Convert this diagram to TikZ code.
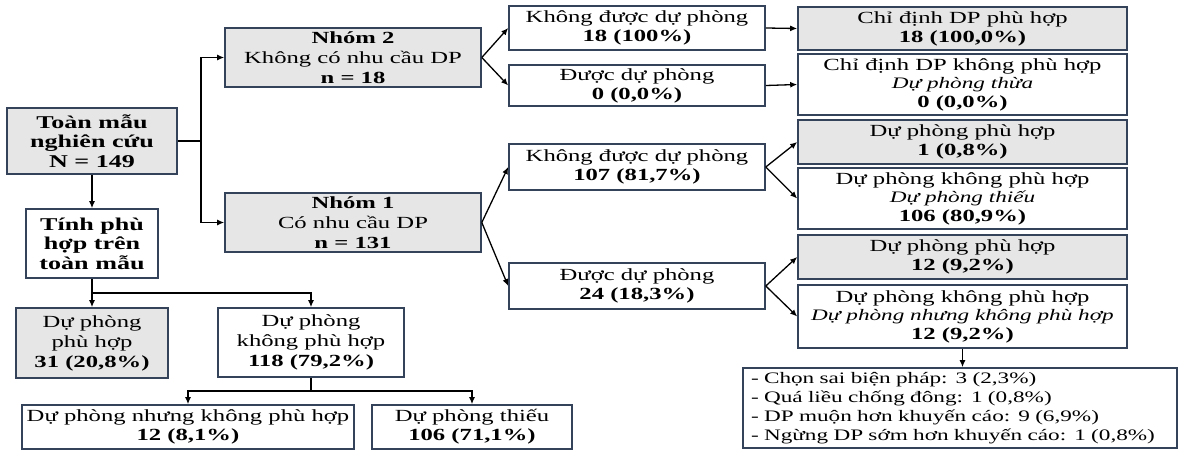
\documentclass[tikz,border=0pt]{standalone}
\usepackage{fontspec}
\setmainfont{Liberation Serif}[FakeStretch=1.45]
\usepackage{tikz}
\usepackage{xcolor}
\usetikzlibrary{arrows.meta}
\definecolor{rim}{HTML}{34425A}
\definecolor{shade}{HTML}{E6E6E6}
\newcommand{\note}[1]{{\fontsize{16}{18.5}\selectfont\itshape #1}}

\begin{document}
\begin{tikzpicture}[
    x=1pt, y=-1pt,
    every node/.style={draw=rim, rectangle, line width=1.6pt, inner sep=0pt, align=center, font=\fontsize{17}{19}\selectfont},
    filled/.style={fill=shade},
    big/.style={font=\fontsize{18}{19.5}\selectfont\bfseries},
    roomy/.style={font=\fontsize{17}{20}\selectfont},
    tight/.style={font=\fontsize{17}{18.5}\selectfont},
    link/.style={line width=1.3pt, -{Latex[length=7pt,width=6pt]}},
    wire/.style={line width=1.3pt}
]
\useasboundingbox (0,0) rectangle (1179,450);

% left part
\node[big, filled, minimum width=170, minimum height=66] (toan) at (92,141) {Toàn mẫu\\nghiên cứu\\N = 149};
\node[big, minimum width=132, minimum height=69] (tinh) at (92,243.5) {Tính phù\\hợp trên\\toàn mẫu};
\node[roomy, filled, minimum width=152, minimum height=70] (dpph) at (92,343) {Dự phòng\\phù hợp\\\textbf{31 (20,8\%)}};
\node[roomy, minimum width=186, minimum height=69] (dpkph) at (311,342.5) {Dự phòng\\không phù hợp\\\textbf{118 (79,2\%)}};
\node[minimum width=332, minimum height=44] (nhung) at (188,427) {Dự phòng nhưng không phù hợp\\\textbf{12 (8,1\%)}};
\node[minimum width=200, minimum height=44] (thieu) at (472,427) {Dự phòng thiếu\\\textbf{106 (71,1\%)}};

% groups
\node[roomy, filled, minimum width=256, minimum height=59] (nhom2) at (353,57.5) {\textbf{Nhóm 2}\\Không có nhu cầu DP\\\textbf{n = 18}};
\node[roomy, filled, minimum width=256, minimum height=59] (nhom1) at (353,222.5) {\textbf{Nhóm 1}\\Có nhu cầu DP\\\textbf{n = 131}};

% middle column
\node[minimum width=256, minimum height=44] (kd2) at (637,28) {Không được dự phòng\\\textbf{18 (100\%)}};
\node[minimum width=256, minimum height=41] (dd2) at (637,85.5) {Được dự phòng\\\textbf{0 (0,0\%)}};
\node[minimum width=256, minimum height=46] (kd1) at (637,167) {Không được dự phòng\\\textbf{107 (81,7\%)}};
\node[minimum width=256, minimum height=46] (dd1) at (637,286) {Được dự phòng\\\textbf{24 (18,3\%)}};

% right column
\node[filled, minimum width=329, minimum height=43] (cdph) at (962.5,28.5) {Chỉ định DP phù hợp\\\textbf{18 (100,0\%)}};
\node[tight, minimum width=329, minimum height=61] (cdkph) at (962.5,84.5) {Chỉ định DP không phù hợp\\\note{Dự phòng thừa}\\\textbf{0 (0,0\%)}};
\node[filled, minimum width=329, minimum height=44] (ph1) at (962.5,142) {Dự phòng phù hợp\\\textbf{1 (0,8\%)}};
\node[tight, minimum width=329, minimum height=61] (thieu1) at (962.5,198.5) {Dự phòng không phù hợp\\\note{Dự phòng thiếu}\\\textbf{106 (80,9\%)}};
\node[filled, minimum width=329, minimum height=44] (ph12) at (962.5,257) {Dự phòng phù hợp\\\textbf{12 (9,2\%)}};
\node[tight, minimum width=329, minimum height=63] (nhung12) at (962.5,316.5) {Dự phòng không phù hợp\\\note{Dự phòng nhưng không phù hợp}\\\textbf{12 (9,2\%)}};
\node[font=\fontsize{16}{19}\selectfont, align=left, text width=418, inner xsep=8pt, minimum height=80] (list) at (960,408) {- Chọn sai biện pháp: 3 (2,3\%)\\- Quá liều chống đông: 1 (0,8\%)\\- DP muộn hơn khuyến cáo: 9 (6,9\%)\\- Ngừng DP sớm hơn khuyến cáo: 1 (0,8\%)};

% forks
\coordinate (splitA) at (201,141);
\coordinate (splitB) at (92,293);
\coordinate (splitC) at (311,391);

% connectors
\draw[wire] (toan.east) -- (splitA);
\draw[link] (splitA) |- (nhom2.west);
\draw[link] (splitA) |- (nhom1.west);
\draw[link] (toan.south) -- (tinh.north);
\draw[link] (tinh.south) -- (dpph.north);
\draw[link] (splitB) -| (dpkph.north);
\draw[wire] (dpkph.south) -- (splitC);
\draw[link] (splitC) -| (nhung.north);
\draw[link] (splitC) -| (thieu.north);

\draw[link] (nhom2.east) -- (kd2.west);
\draw[link] (nhom2.east) -- (dd2.west);
\draw[link] (nhom1.east) -- (kd1.west);
\draw[link] (nhom1.east) -- (dd1.west);
\draw[link] (kd2.east) -- (cdph.west);
\draw[link] (dd2.east) -- (cdkph.west);
\draw[link] (kd1.east) -- (ph1.west);
\draw[link] (kd1.east) -- (thieu1.west);
\draw[link] (dd1.east) -- (ph12.west);
\draw[link] (dd1.east) -- (nhung12.west);
\draw[link] (nhung12.south) -- (nhung12.south |- list.north);
\end{tikzpicture}
\end{document}
